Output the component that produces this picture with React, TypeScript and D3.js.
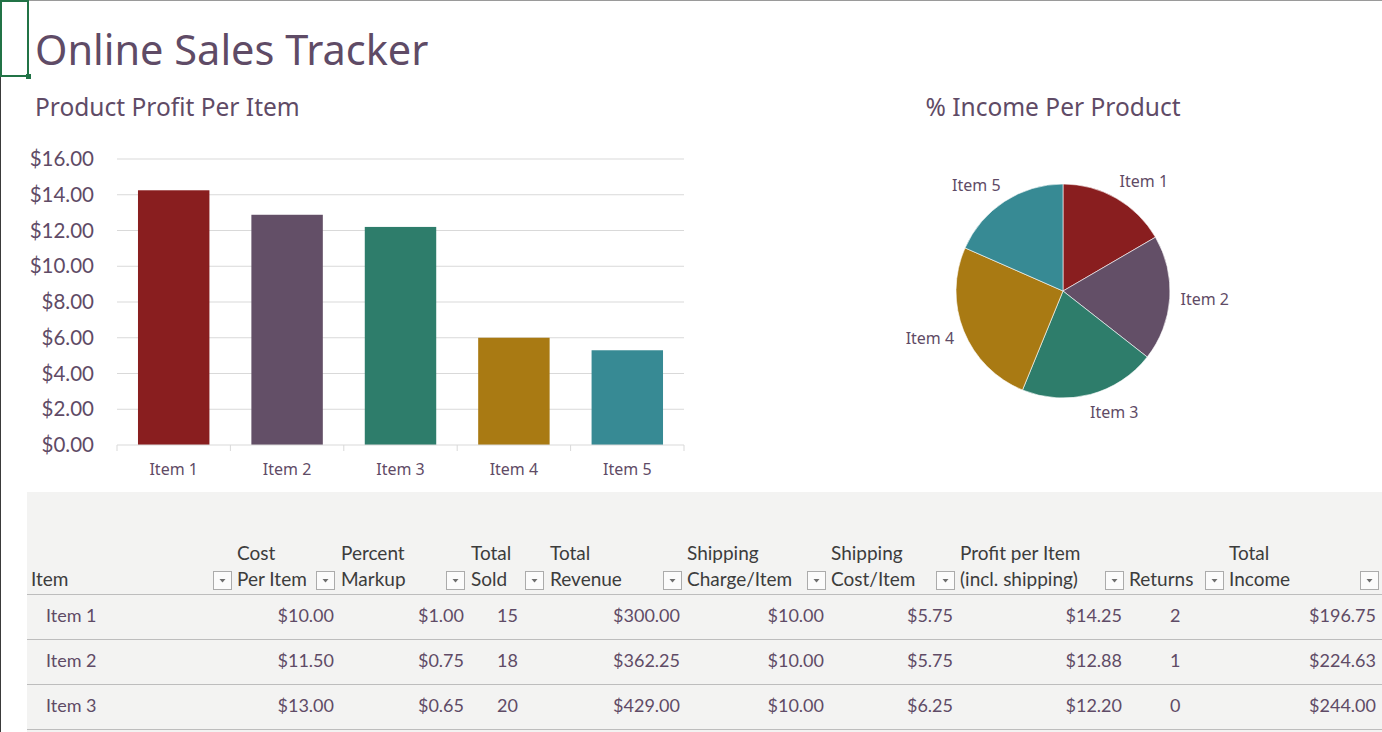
import React from 'react';
import * as d3 from 'd3';

// chart data
const items = ['Item 1', 'Item 2', 'Item 3', 'Item 4', 'Item 5'];
const profitPerItem = [14.25, 12.88, 12.2, 6.0, 5.3];
const incomePerItem = [196.75, 224.63, 244.0, 301.0, 218.0];
const yTicks = [0, 2, 4, 6, 8, 10, 12, 14, 16];
const itemColors = ['#891e1f', '#634f67', '#2e7d6b', '#a97a13', '#378a94'];

// table rows (only the first three are visible)
const tableItems = ['Item 1', 'Item 2', 'Item 3'];
const costPerItem = [10.0, 11.5, 13.0];
const percentMarkup = [1.0, 0.75, 0.65];
const totalSold = [15, 18, 20];
const totalRevenue = [300.0, 362.25, 429.0];
const shippingCharge = [10.0, 10.0, 10.0];
const shippingCost = [5.75, 5.75, 6.25];
const profitInclShipping = [14.25, 12.88, 12.2];
const returnsCount = [2, 1, 0];
const totalIncome = [196.75, 224.63, 244.0];

const money = d3.format('$,.2f');
const SEGOE = '"Noto Sans", "Open Sans", sans-serif';
const CALIBRI = 'Lato, "Noto Sans", sans-serif';
const TEXT = '#5f4b66';
const HEAD = '#3c3c3c';

const columns = [
  { head: ['', 'Item'], hx: 31, btn: 213, values: tableItems, fmt: (v: any) => v, x: 46, anchor: 'start' },
  { head: ['Cost', 'Per Item'], hx: 237, btn: 316, values: costPerItem, fmt: money, x: 334, anchor: 'end' },
  { head: ['Percent', 'Markup'], hx: 341, btn: 446, values: percentMarkup, fmt: money, x: 464, anchor: 'end' },
  { head: ['Total', 'Sold'], hx: 471, btn: 525, values: totalSold, fmt: String, x: 497, anchor: 'start' },
  { head: ['Total', 'Revenue'], hx: 550, btn: 663, values: totalRevenue, fmt: money, x: 680, anchor: 'end' },
  { head: ['Shipping', 'Charge/Item'], hx: 687, btn: 807, values: shippingCharge, fmt: money, x: 824, anchor: 'end' },
  { head: ['Shipping', 'Cost/Item'], hx: 831, btn: 936, values: shippingCost, fmt: money, x: 953, anchor: 'end' },
  { head: ['Profit per Item', '(incl. shipping)'], hx: 960, btn: 1105, values: profitInclShipping, fmt: money, x: 1122, anchor: 'end' },
  { head: ['', 'Returns'], hx: 1129, btn: 1205, values: returnsCount, fmt: String, x: 1170, anchor: 'start' },
  { head: ['Total', 'Income'], hx: 1229, btn: 1360, values: totalIncome, fmt: money, x: 1376, anchor: 'end' },
];

function BarChart() {
  const x = d3.scaleBand().domain(items).range([117, 684]).paddingInner(0.37).paddingOuter(0.185);
  const y = d3.scaleLinear().domain([0, 16]).range([445, 159]);
  const step = x.step();
  const bounds = d3.range(items.length + 1).map(i => 117 + i * step);
  return (
    <g>
      <text x={35} y={116} fontFamily={SEGOE} fontSize={24.5} fill={TEXT}>Product Profit Per Item</text>
      {yTicks.map(t => (
        <g key={t}>
          {t > 0 && <line x1={117} x2={684} y1={y(t)} y2={y(t)} stroke="#d9d9d9" />}
          <text x={94} y={y(t)} dy="0.35em" textAnchor="end" fontFamily={CALIBRI} fontSize={20.5} fill={TEXT}>
            {money(t)}
          </text>
        </g>
      ))}
      {items.map((d, i) => (
        <rect key={d} x={x(d)} width={x.bandwidth()} y={y(profitPerItem[i])}
          height={y(0) - y(profitPerItem[i])} fill={itemColors[i]} />
      ))}
      <line x1={117} x2={684} y1={y(0)} y2={y(0)} stroke="#d9d9d9" />
      {bounds.map((b, i) => (
        <line key={i} x1={b} x2={b} y1={y(0)} y2={y(0) + 6} stroke="#d9d9d9" />
      ))}
      {items.map(d => (
        <text key={d} x={(x(d) as number) + x.bandwidth() / 2} y={469} dy="0.35em" textAnchor="middle"
          fontFamily={SEGOE} fontSize={16} fill={TEXT}>{d}</text>
      ))}
    </g>
  );
}

function PieChart() {
  const cx = 1063, cy = 291, r = 107;
  const arcs = d3.pie<number>().sort(null).value(d => d)(incomePerItem);
  const arc = d3.arc<d3.PieArcDatum<number>>().innerRadius(0).outerRadius(r);
  const labelArc = d3.arc<d3.PieArcDatum<number>>().innerRadius(122).outerRadius(122);
  return (
    <g>
      <text x={1053} y={116} textAnchor="middle" fontFamily={SEGOE} fontSize={24.5} fill={TEXT}>% Income Per Product</text>
      <g transform={`translate(${cx},${cy})`}>
        {arcs.map((a, i) => (
          <path key={i} d={arc(a) || ''} fill={itemColors[i]} stroke="#ffffff" strokeWidth={0.6} />
        ))}
        {arcs.map((a, i) => {
          const [lx, ly] = labelArc.centroid(a);
          const mid = (a.startAngle + a.endAngle) / 2;
          const s = Math.sin(mid);
          // push label outward by about half its width
          const offX = 20 * Math.sign(s) * Math.min(1, Math.abs(s) * 4);
          const offY = -4 * Math.cos(mid);
          return (
            <text key={i} x={lx + offX} y={ly + offY} dy="0.35em" textAnchor="middle"
              fontFamily={SEGOE} fontSize={16} fill={TEXT}>{items[i]}</text>
          );
        })}
      </g>
    </g>
  );
}

function Table() {
  const rowY = [594, 639, 684, 729];
  return (
    <g>
      <rect x={27} y={492} width={1355} height={240} fill="#f3f3f2" />
      {rowY.map(ry => (
        <line key={ry} x1={27} x2={1382} y1={ry + 0.5} y2={ry + 0.5} stroke="#bdbdbd" />
      ))}
      {columns.map((c, ci) => (
        <g key={ci}>
          <text x={c.hx} y={560} fontFamily={CALIBRI} fontSize={19} fill={HEAD}>{c.head[0]}</text>
          <text x={c.hx} y={586} fontFamily={CALIBRI} fontSize={19} fill={HEAD}>{c.head[1]}</text>
          <rect x={c.btn + 0.5} y={571.5} width={18} height={18} fill="#fbfbfb" stroke="#ababab" />
          <path d={`M${c.btn + 6.5},${579} l6,0 l-3,3.5 z`} fill="#6d6d6d" />
          {c.values.map((v: any, ri: number) => (
            <text key={ri} x={c.x} y={rowY[ri] + 28} textAnchor={c.anchor as any}
              fontFamily={CALIBRI} fontSize={18} fill={TEXT}>{c.fmt(v)}</text>
          ))}
        </g>
      ))}
    </g>
  );
}

export default function App() {
  return (
    <div style={{ position: 'fixed', left: 0, top: 0 }}>
      <svg width={1382} height={732} style={{ display: 'block', background: '#ffffff' }}>
        <line x1={0} x2={1382} y1={0.5} y2={0.5} stroke="#9a9a9a" />
        <line x1={0.5} x2={0.5} y1={0} y2={732} stroke="#3a3a3a" />
        <rect x={1} y={1} width={27} height={75} fill="none" stroke="#217346" strokeWidth={2} />
        <rect x={26} y={74} width={5} height={5} fill="#217346" />
        <text x={35} y={65} fontFamily={SEGOE} fontWeight={400} fontSize={41.5} fill={TEXT}>Online Sales Tracker</text>
        <BarChart />
        <PieChart />
        <Table />
      </svg>
    </div>
  );
}
